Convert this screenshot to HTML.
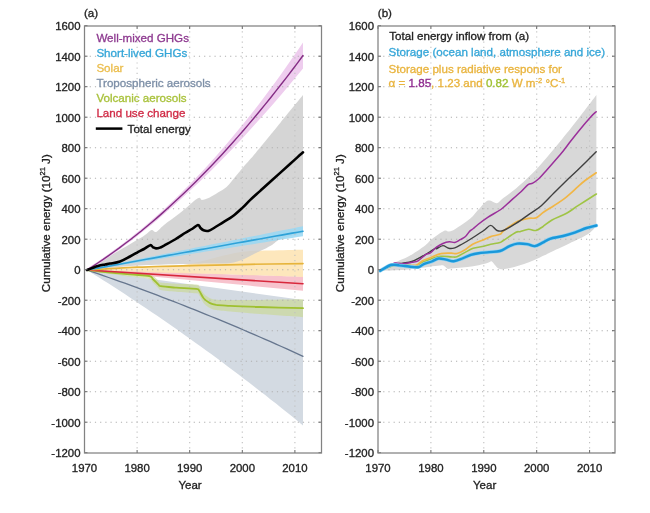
<!DOCTYPE html>
<html><head><meta charset="utf-8"><style>
html,body{margin:0;padding:0;background:#fff;}
body{width:650px;height:513px;overflow:hidden;}
svg{display:block;filter:blur(0.4px);}
text{font-family:"Liberation Sans",Arial,sans-serif;fill:#222;stroke:#222;stroke-width:0.32px;}
.g{stroke:#b0b0b0;stroke-width:1.1;stroke-dasharray:1.2 4.0;}
.t{stroke:#666;stroke-width:1;}
.fr{fill:none;stroke:#828282;stroke-width:1.25;}
.yl{font-size:11.4px;text-anchor:end;}
.xl{font-size:11.4px;text-anchor:middle;}
.lg{font-size:11.6px;}
.ln{fill:none;stroke-linejoin:round;stroke-linecap:round;}
</style></head><body>
<svg width="650" height="513" viewBox="0 0 650 513">
<rect width="650" height="513" fill="#fff"/>
<path d="M87.0,270.0 L303.0,300.0 L303.0,425.4 L297.6,421.0 L292.2,416.6 L286.8,412.2 L281.4,407.9 L276.0,403.6 L270.6,399.4 L265.2,395.1 L259.8,390.9 L254.4,386.7 L249.0,382.5 L243.6,378.4 L238.2,374.3 L232.8,370.2 L227.4,366.2 L222.0,362.1 L216.6,358.1 L211.2,354.1 L205.8,350.2 L200.4,346.3 L195.0,342.4 L189.6,338.5 L184.2,334.7 L178.8,330.8 L173.4,327.1 L168.0,323.3 L162.6,319.5 L157.2,315.8 L151.8,312.2 L146.4,308.5 L141.0,304.9 L135.6,301.3 L130.2,297.7 L124.8,294.1 L119.4,290.6 L114.0,287.1 L108.6,283.6 L103.2,280.2 L97.8,276.8 L92.4,273.4 L87.0,270.0 Z" fill="#d3dae2"/>
<path d="M87.0,269.5 C89.2,269.7 92.8,270.0 100.0,270.5 C107.2,270.9 121.8,271.8 130.0,272.2 C138.2,272.6 145.3,272.5 149.2,273.0 C153.0,273.6 151.5,274.3 153.1,275.6 C154.7,277.0 157.2,279.8 158.5,280.9 C159.8,282.1 157.9,282.0 160.8,282.5 C163.8,282.9 170.3,283.3 176.2,283.7 C182.1,284.0 192.4,284.0 196.2,284.5 C200.0,284.9 197.9,284.8 199.2,286.3 C200.5,287.9 202.0,291.9 203.8,293.8 C205.6,295.8 207.9,297.2 210.0,298.2 C212.1,299.1 212.9,299.4 216.2,299.7 C219.5,300.0 222.7,300.0 230.0,300.0 C237.3,300.0 247.8,300.0 260.0,299.9 C272.2,299.7 295.8,299.3 303.0,299.2 L303.0,317.2 C295.8,316.7 272.2,315.1 260.0,314.1 C247.8,313.2 237.3,312.3 230.0,311.6 C222.7,310.9 219.5,310.7 216.2,310.1 C212.9,309.5 212.1,309.2 210.0,308.0 C207.9,306.9 205.6,305.3 203.8,303.2 C202.0,301.0 200.5,296.9 199.2,295.3 C197.9,293.6 200.0,293.9 196.2,293.3 C192.4,292.7 182.1,292.3 176.2,291.7 C170.3,291.2 163.8,290.5 160.8,289.9 C157.9,289.3 159.8,289.5 158.5,288.3 C157.2,287.1 154.7,284.3 153.1,282.8 C151.5,281.2 153.0,280.0 149.2,279.0 C145.3,277.9 138.2,277.7 130.0,276.6 C121.8,275.5 107.2,273.5 100.0,272.5 C92.8,271.5 89.2,270.8 87.0,270.5 Z" fill="#c9d98f" fill-opacity="0.6"/>
<path d="M87.0,269.5 L92.4,269.7 L97.8,269.9 L103.2,270.0 L108.6,270.2 L114.0,270.4 L119.4,270.6 L124.8,270.8 L130.2,270.9 L135.6,271.1 L141.0,271.3 L146.4,271.5 L151.8,271.7 L157.2,271.8 L162.6,272.0 L168.0,272.2 L173.4,272.4 L178.8,272.6 L184.2,272.7 L189.6,272.9 L195.0,273.1 L200.4,273.3 L205.8,273.5 L211.2,273.6 L216.6,273.8 L222.0,274.0 L227.4,274.2 L232.8,274.4 L238.2,274.5 L243.6,274.7 L249.0,274.9 L254.4,275.1 L259.8,275.3 L265.2,275.4 L270.6,275.6 L276.0,275.8 L281.4,276.0 L286.8,276.2 L292.2,276.3 L297.6,276.5 L303.0,276.7 L303.0,290.7 L297.6,290.2 L292.2,289.7 L286.8,289.2 L281.4,288.7 L276.0,288.2 L270.6,287.7 L265.2,287.2 L259.8,286.7 L254.4,286.2 L249.0,285.6 L243.6,285.1 L238.2,284.6 L232.8,284.1 L227.4,283.6 L222.0,283.1 L216.6,282.6 L211.2,282.1 L205.8,281.6 L200.4,281.1 L195.0,280.6 L189.6,280.1 L184.2,279.6 L178.8,279.1 L173.4,278.6 L168.0,278.1 L162.6,277.6 L157.2,277.1 L151.8,276.6 L146.4,276.1 L141.0,275.6 L135.6,275.0 L130.2,274.5 L124.8,274.0 L119.4,273.5 L114.0,273.0 L108.6,272.5 L103.2,272.0 L97.8,271.5 L92.4,271.0 L87.0,270.5 Z" fill="#f4a9b8" fill-opacity="0.7"/>
<path d="M87.0,270.0 C94.2,269.8 116.3,269.0 130.0,268.5 C143.7,268.0 158.2,267.9 169.0,267.0 C179.8,266.1 186.8,264.4 194.8,262.8 C202.8,261.2 208.9,259.1 216.9,257.2 C224.9,255.3 234.0,252.8 242.8,251.7 C251.7,250.6 260.0,250.8 270.0,250.5 C280.0,250.2 297.5,249.8 303.0,249.7 L303.0,277.0 C294.2,276.7 266.5,275.7 250.0,275.2 C233.5,274.7 220.7,274.3 204.0,273.8 C187.3,273.3 169.5,272.8 150.0,272.2 C130.5,271.6 97.5,270.4 87.0,270.0 Z" fill="#fde3b0" fill-opacity="0.85"/>
<path d="M87.0,270.0 C89.2,268.7 94.5,265.3 100.0,262.0 C105.5,258.7 112.7,254.4 120.0,250.0 C127.3,245.6 138.8,239.0 144.0,235.7 C149.2,232.4 149.5,230.6 151.5,230.0 C153.5,229.4 153.9,232.8 156.0,232.0 C158.1,231.2 160.0,228.1 164.0,224.9 C168.0,221.7 174.4,217.4 180.0,213.0 C185.6,208.6 193.8,200.6 197.5,198.4 C201.2,196.2 200.0,200.0 201.9,199.9 C203.8,199.8 206.5,198.9 209.2,197.7 C211.9,196.5 215.1,194.4 218.0,192.6 C220.9,190.8 223.9,189.5 226.8,186.8 C229.7,184.1 232.8,179.7 235.5,176.5 C238.2,173.3 239.9,171.2 242.8,167.8 C245.7,164.4 250.6,159.1 253.1,156.1 C255.6,153.1 255.2,153.4 258.0,150.0 C260.8,146.6 266.2,140.0 270.0,135.4 C273.8,130.8 275.3,128.9 280.8,122.2 C286.3,115.5 299.3,99.5 303.0,95.0 L303.0,233.0 C299.4,233.9 286.5,236.6 281.2,238.7 C275.9,240.8 275.1,243.2 271.1,245.5 C267.2,247.8 263.7,249.4 257.5,252.2 C251.3,255.0 242.7,260.5 233.8,262.4 C224.9,264.3 215.6,263.1 204.0,263.5 C192.4,263.9 176.3,264.1 164.0,264.5 C151.7,264.9 142.8,265.1 130.0,266.0 C117.2,266.9 94.2,269.3 87.0,270.0 Z" fill="#cccccc" fill-opacity="0.82"/>
<path d="M87.0,269.5 L92.4,268.4 L97.8,267.3 L103.2,266.3 L108.6,265.2 L114.0,264.1 L119.4,263.0 L124.8,261.9 L130.2,260.8 L135.6,259.8 L141.0,258.7 L146.4,257.6 L151.8,256.5 L157.2,255.4 L162.6,254.3 L168.0,253.3 L173.4,252.2 L178.8,251.1 L184.2,250.0 L189.6,248.9 L195.0,247.8 L200.4,246.8 L205.8,245.7 L211.2,244.6 L216.6,243.5 L222.0,242.4 L227.4,241.4 L232.8,240.3 L238.2,239.2 L243.6,238.1 L249.0,237.0 L254.4,235.9 L259.8,234.9 L265.2,233.8 L270.6,232.7 L276.0,231.6 L281.4,230.5 L286.8,229.4 L292.2,228.4 L297.6,227.3 L303.0,226.2 L303.0,236.2 L297.6,237.1 L292.2,237.9 L286.8,238.8 L281.4,239.6 L276.0,240.5 L270.6,241.3 L265.2,242.2 L259.8,243.1 L254.4,243.9 L249.0,244.8 L243.6,245.6 L238.2,246.5 L232.8,247.3 L227.4,248.2 L222.0,249.1 L216.6,249.9 L211.2,250.8 L205.8,251.6 L200.4,252.5 L195.0,253.3 L189.6,254.2 L184.2,255.1 L178.8,255.9 L173.4,256.8 L168.0,257.6 L162.6,258.5 L157.2,259.4 L151.8,260.2 L146.4,261.1 L141.0,261.9 L135.6,262.8 L130.2,263.6 L124.8,264.5 L119.4,265.4 L114.0,266.2 L108.6,267.1 L103.2,267.9 L97.8,268.8 L92.4,269.6 L87.0,270.5 Z" fill="#98d8f4" fill-opacity="0.85"/>
<path d="M87.0,268.4 L92.4,265.0 L97.8,261.4 L103.2,257.8 L108.6,254.0 L114.0,250.1 L119.4,246.2 L124.8,242.1 L130.2,237.9 L135.6,233.6 L141.0,229.2 L146.4,224.7 L151.8,220.0 L157.2,215.3 L162.6,210.4 L168.0,205.5 L173.4,200.4 L178.8,195.2 L184.2,189.8 L189.6,184.4 L195.0,178.8 L200.4,173.2 L205.8,167.4 L211.2,161.5 L216.6,155.4 L222.0,149.3 L227.4,143.0 L232.8,136.6 L238.2,130.1 L243.6,123.5 L249.0,116.8 L254.4,109.9 L259.8,102.9 L265.2,95.8 L270.6,88.5 L276.0,81.2 L281.4,73.7 L286.8,66.1 L292.2,58.3 L297.6,50.5 L303.0,42.5 L303.0,68.5 L297.6,75.1 L292.2,81.6 L286.8,88.0 L281.4,94.4 L276.0,100.7 L270.6,106.9 L265.2,113.1 L259.8,119.1 L254.4,125.1 L249.0,131.1 L243.6,136.9 L238.2,142.7 L232.8,148.4 L227.4,154.0 L222.0,159.5 L216.6,165.0 L211.2,170.4 L205.8,175.7 L200.4,180.9 L195.0,186.1 L189.6,191.1 L184.2,196.1 L178.8,201.0 L173.4,205.9 L168.0,210.6 L162.6,215.3 L157.2,219.9 L151.8,224.4 L146.4,228.8 L141.0,233.1 L135.6,237.4 L130.2,241.5 L124.8,245.6 L119.4,249.6 L114.0,253.5 L108.6,257.3 L103.2,261.0 L97.8,264.6 L92.4,268.2 L87.0,271.6 Z" fill="#eecdee"/>
<line x1="84.5" y1="422.2" x2="321.5" y2="422.2" class="g"/>
<line x1="84.5" y1="391.7" x2="321.5" y2="391.7" class="g"/>
<line x1="84.5" y1="361.2" x2="321.5" y2="361.2" class="g"/>
<line x1="84.5" y1="330.7" x2="321.5" y2="330.7" class="g"/>
<line x1="84.5" y1="300.2" x2="321.5" y2="300.2" class="g"/>
<line x1="84.5" y1="269.7" x2="321.5" y2="269.7" class="g"/>
<line x1="84.5" y1="239.2" x2="321.5" y2="239.2" class="g"/>
<line x1="84.5" y1="208.7" x2="321.5" y2="208.7" class="g"/>
<line x1="84.5" y1="178.2" x2="321.5" y2="178.2" class="g"/>
<line x1="84.5" y1="147.7" x2="321.5" y2="147.7" class="g"/>
<line x1="84.5" y1="117.2" x2="321.5" y2="117.2" class="g"/>
<line x1="84.5" y1="86.7" x2="321.5" y2="86.7" class="g"/>
<line x1="84.5" y1="56.2" x2="321.5" y2="56.2" class="g"/>
<line x1="137.1" y1="26" x2="137.1" y2="453" class="g" style="stroke:#c0c0c0"/>
<line x1="189.7" y1="26" x2="189.7" y2="453" class="g" style="stroke:#c0c0c0"/>
<line x1="242.3" y1="26" x2="242.3" y2="453" class="g" style="stroke:#c0c0c0"/>
<line x1="294.9" y1="26" x2="294.9" y2="453" class="g" style="stroke:#c0c0c0"/>
<polyline points="87.0,270.0 92.4,271.8 97.8,273.7 103.2,275.6 108.6,277.5 114.0,279.4 119.4,281.3 124.8,283.2 130.2,285.2 135.6,287.2 141.0,289.2 146.4,291.2 151.8,293.2 157.2,295.2 162.6,297.3 168.0,299.3 173.4,301.4 178.8,303.5 184.2,305.6 189.6,307.8 195.0,309.9 200.4,312.1 205.8,314.3 211.2,316.5 216.6,318.7 222.0,320.9 227.4,323.2 232.8,325.4 238.2,327.7 243.6,330.0 249.0,332.3 254.4,334.6 259.8,337.0 265.2,339.3 270.6,341.7 276.0,344.1 281.4,346.5 286.8,348.9 292.2,351.4 297.6,353.8 303.0,356.3" class="ln" stroke="#66768e" stroke-width="1.3"/>
<path d="M87.0,270.0 C89.2,270.2 92.8,270.8 100.0,271.5 C107.2,272.2 121.8,273.6 130.0,274.4 C138.2,275.1 145.3,275.2 149.2,276.0 C153.0,276.8 151.5,277.8 153.1,279.2 C154.7,280.6 157.2,283.4 158.5,284.6 C159.8,285.8 157.9,285.7 160.8,286.2 C163.8,286.7 170.3,287.2 176.2,287.7 C182.1,288.1 192.4,288.4 196.2,288.9 C200.0,289.4 197.9,289.2 199.2,290.8 C200.5,292.4 202.0,296.4 203.8,298.5 C205.6,300.6 207.9,302.0 210.0,303.1 C212.1,304.2 212.9,304.4 216.2,304.9 C219.5,305.3 222.7,305.4 230.0,305.8 C237.3,306.2 247.8,306.6 260.0,307.0 C272.2,307.4 295.8,308.0 303.0,308.2" class="ln" stroke="#9fc030" stroke-width="1.8"/>
<polyline points="87.0,270.0 303.0,283.7" class="ln" stroke="#d8283c" stroke-width="1.6"/>
<path d="M87.0,270.0 C90.8,269.8 101.7,269.1 110.0,268.6 C118.3,268.1 128.0,267.6 137.0,267.2 C146.0,266.8 152.8,266.6 164.0,266.3 C175.2,266.0 189.7,265.6 204.0,265.3 C218.3,265.0 233.5,264.6 250.0,264.3 C266.5,264.0 294.2,263.7 303.0,263.6" class="ln" stroke="#e6b43c" stroke-width="1.7"/>
<polyline points="87.0,270.0 92.4,269.0 97.8,268.1 103.2,267.1 108.6,266.1 114.0,265.1 119.4,264.2 124.8,263.2 130.2,262.2 135.6,261.3 141.0,260.3 146.4,259.3 151.8,258.4 157.2,257.4 162.6,256.4 168.0,255.4 173.4,254.5 178.8,253.5 184.2,252.5 189.6,251.6 195.0,250.6 200.4,249.6 205.8,248.7 211.2,247.7 216.6,246.7 222.0,245.8 227.4,244.8 232.8,243.8 238.2,242.8 243.6,241.9 249.0,240.9 254.4,239.9 259.8,239.0 265.2,238.0 270.6,237.0 276.0,236.0 281.4,235.1 286.8,234.1 292.2,233.1 297.6,232.2 303.0,231.2" class="ln" stroke="#2ea2d8" stroke-width="1.6"/>
<polyline points="87.0,270.0 92.4,266.6 97.8,263.0 103.2,259.4 108.6,255.6 114.0,251.8 119.4,247.9 124.8,243.8 130.2,239.7 135.6,235.5 141.0,231.2 146.4,226.7 151.8,222.2 157.2,217.6 162.6,212.9 168.0,208.0 173.4,203.1 178.8,198.1 184.2,193.0 189.6,187.8 195.0,182.5 200.4,177.1 205.8,171.5 211.2,165.9 216.6,160.2 222.0,154.4 227.4,148.5 232.8,142.5 238.2,136.4 243.6,130.2 249.0,123.9 254.4,117.5 259.8,111.0 265.2,104.4 270.6,97.7 276.0,90.9 281.4,84.0 286.8,77.1 292.2,70.0 297.6,62.8 303.0,55.5" class="ln" stroke="#842c84" stroke-width="1.4"/>
<path d="M87.0,270.0 C88.8,269.3 95.0,266.9 98.0,266.0 C101.0,265.1 103.0,264.9 105.0,264.5 C107.0,264.1 107.5,264.1 110.0,263.6 C112.5,263.1 116.7,262.7 120.0,261.5 C123.3,260.3 127.1,258.0 130.0,256.5 C132.9,255.0 135.2,253.6 137.5,252.3 C139.8,251.1 141.9,250.2 144.0,249.0 C146.1,247.8 148.8,245.5 150.3,245.2 C151.8,244.9 152.1,246.8 153.0,247.3 C153.9,247.8 154.8,248.4 156.0,248.4 C157.2,248.4 158.7,248.1 160.0,247.6 C161.3,247.1 161.5,246.9 164.0,245.6 C166.5,244.2 171.5,241.6 175.0,239.5 C178.5,237.4 182.2,234.8 185.0,233.0 C187.8,231.2 189.8,230.3 192.0,229.0 C194.2,227.7 196.5,225.2 197.9,225.0 C199.3,224.8 199.6,227.1 200.5,228.0 C201.4,228.9 202.2,229.8 203.5,230.3 C204.8,230.8 206.4,231.3 208.2,230.9 C209.9,230.5 211.5,229.5 214.0,228.0 C216.5,226.5 220.3,224.0 223.4,222.1 C226.5,220.2 229.6,218.6 232.7,216.3 C235.8,214.0 239.2,210.8 242.1,208.1 C245.0,205.4 247.3,202.7 250.3,199.9 C253.3,197.1 256.7,194.1 260.0,191.1 C263.3,188.1 265.0,186.5 270.0,182.0 C275.0,177.5 284.5,168.9 290.0,164.0 C295.5,159.1 300.8,154.2 303.0,152.3" class="ln" stroke="#000" stroke-width="2.6"/>
<line x1="84.5" y1="452.7" x2="87.5" y2="452.7" class="t"/>
<line x1="321.5" y1="452.7" x2="318.5" y2="452.7" class="t"/>
<text x="80.5" y="457.3" class="yl">-1200</text>
<line x1="84.5" y1="422.2" x2="87.5" y2="422.2" class="t"/>
<line x1="321.5" y1="422.2" x2="318.5" y2="422.2" class="t"/>
<text x="80.5" y="426.8" class="yl">-1000</text>
<line x1="84.5" y1="391.7" x2="87.5" y2="391.7" class="t"/>
<line x1="321.5" y1="391.7" x2="318.5" y2="391.7" class="t"/>
<text x="80.5" y="396.3" class="yl">-800</text>
<line x1="84.5" y1="361.2" x2="87.5" y2="361.2" class="t"/>
<line x1="321.5" y1="361.2" x2="318.5" y2="361.2" class="t"/>
<text x="80.5" y="365.8" class="yl">-600</text>
<line x1="84.5" y1="330.7" x2="87.5" y2="330.7" class="t"/>
<line x1="321.5" y1="330.7" x2="318.5" y2="330.7" class="t"/>
<text x="80.5" y="335.3" class="yl">-400</text>
<line x1="84.5" y1="300.2" x2="87.5" y2="300.2" class="t"/>
<line x1="321.5" y1="300.2" x2="318.5" y2="300.2" class="t"/>
<text x="80.5" y="304.8" class="yl">-200</text>
<line x1="84.5" y1="269.7" x2="87.5" y2="269.7" class="t"/>
<line x1="321.5" y1="269.7" x2="318.5" y2="269.7" class="t"/>
<text x="80.5" y="274.3" class="yl">0</text>
<line x1="84.5" y1="239.2" x2="87.5" y2="239.2" class="t"/>
<line x1="321.5" y1="239.2" x2="318.5" y2="239.2" class="t"/>
<text x="80.5" y="243.8" class="yl">200</text>
<line x1="84.5" y1="208.7" x2="87.5" y2="208.7" class="t"/>
<line x1="321.5" y1="208.7" x2="318.5" y2="208.7" class="t"/>
<text x="80.5" y="213.3" class="yl">400</text>
<line x1="84.5" y1="178.2" x2="87.5" y2="178.2" class="t"/>
<line x1="321.5" y1="178.2" x2="318.5" y2="178.2" class="t"/>
<text x="80.5" y="182.8" class="yl">600</text>
<line x1="84.5" y1="147.7" x2="87.5" y2="147.7" class="t"/>
<line x1="321.5" y1="147.7" x2="318.5" y2="147.7" class="t"/>
<text x="80.5" y="152.3" class="yl">800</text>
<line x1="84.5" y1="117.2" x2="87.5" y2="117.2" class="t"/>
<line x1="321.5" y1="117.2" x2="318.5" y2="117.2" class="t"/>
<text x="80.5" y="121.8" class="yl">1000</text>
<line x1="84.5" y1="86.7" x2="87.5" y2="86.7" class="t"/>
<line x1="321.5" y1="86.7" x2="318.5" y2="86.7" class="t"/>
<text x="80.5" y="91.3" class="yl">1200</text>
<line x1="84.5" y1="56.2" x2="87.5" y2="56.2" class="t"/>
<line x1="321.5" y1="56.2" x2="318.5" y2="56.2" class="t"/>
<text x="80.5" y="60.8" class="yl">1400</text>
<line x1="84.5" y1="25.7" x2="87.5" y2="25.7" class="t"/>
<line x1="321.5" y1="25.7" x2="318.5" y2="25.7" class="t"/>
<text x="80.5" y="30.3" class="yl">1600</text>
<line x1="84.5" y1="453" x2="84.5" y2="450" class="t"/>
<line x1="84.5" y1="26" x2="84.5" y2="29" class="t"/>
<text x="84.5" y="471.8" class="xl">1970</text>
<line x1="137.1" y1="453" x2="137.1" y2="450" class="t"/>
<line x1="137.1" y1="26" x2="137.1" y2="29" class="t"/>
<text x="137.1" y="471.8" class="xl">1980</text>
<line x1="189.7" y1="453" x2="189.7" y2="450" class="t"/>
<line x1="189.7" y1="26" x2="189.7" y2="29" class="t"/>
<text x="189.7" y="471.8" class="xl">1990</text>
<line x1="242.3" y1="453" x2="242.3" y2="450" class="t"/>
<line x1="242.3" y1="26" x2="242.3" y2="29" class="t"/>
<text x="242.3" y="471.8" class="xl">2000</text>
<line x1="294.9" y1="453" x2="294.9" y2="450" class="t"/>
<line x1="294.9" y1="26" x2="294.9" y2="29" class="t"/>
<text x="294.9" y="471.8" class="xl">2010</text>
<rect x="84.5" y="26" width="237.0" height="427" class="fr"/>
<text x="96.4" y="42.1" class="lg" style="fill:#8e3a90;stroke:#8e3a90">Well-mixed GHGs</text>
<text x="96.4" y="57.0" class="lg" style="fill:#35a6d8;stroke:#35a6d8">Short-lived GHGs</text>
<text x="96.4" y="71.9" class="lg" style="fill:#ebbd4c;stroke:#ebbd4c">Solar</text>
<text x="96.4" y="86.7" class="lg" style="fill:#7d8fa7;stroke:#7d8fa7">Tropospheric aerosols</text>
<text x="96.4" y="101.6" class="lg" style="fill:#a9c23c;stroke:#a9c23c">Volcanic aerosols</text>
<text x="96.4" y="116.5" class="lg" style="fill:#d02a45;stroke:#d02a45">Land use change</text>
<line x1="95.8" y1="128.6" x2="122.4" y2="128.6" stroke="#000" stroke-width="2.5"/>
<text x="127.6" y="133" class="lg">Total energy</text>
<text x="83.9" y="17.3" style="font-size:11.6px">(a)</text>
<path d="M380.3,270.8 C382.5,269.5 388.6,265.5 393.4,263.1 C398.1,260.7 403.7,259.0 408.8,256.2 C413.9,253.4 420.4,249.0 424.2,246.2 C428.0,243.4 428.5,241.8 431.8,239.2 C435.1,236.6 441.4,232.1 444.2,230.8 C447.0,229.5 447.0,231.8 448.8,231.5 C450.6,231.2 451.3,231.4 454.9,229.2 C458.5,227.0 466.4,221.7 470.3,218.5 C474.2,215.3 475.4,212.8 478.0,210.0 C480.6,207.2 483.6,203.5 485.6,201.9 C487.6,200.3 488.1,200.3 490.0,200.5 C491.9,200.7 494.8,203.6 497.0,203.2 C499.2,202.8 500.1,200.5 503.3,198.1 C506.5,195.7 511.4,192.4 516.0,188.5 C520.6,184.6 526.1,179.8 531.2,174.6 C536.3,169.4 541.6,163.4 546.8,157.4 C552.0,151.4 557.7,144.4 562.4,138.7 C567.1,133.0 569.2,130.4 574.9,123.1 C580.6,115.8 592.8,99.7 596.4,95.0 L596.3,226.2 C594.9,227.5 592.2,231.3 587.7,234.2 C583.2,237.1 575.5,240.4 569.2,243.4 C562.9,246.4 554.1,250.4 550.0,252.4 C545.9,254.4 547.2,254.0 544.5,255.3 C541.8,256.6 537.2,258.7 533.8,260.2 C530.4,261.7 527.4,263.0 524.1,264.1 C520.9,265.2 517.5,266.2 514.3,267.0 C511.0,267.8 507.0,268.7 504.6,269.0 C502.2,269.3 501.3,269.3 500.0,269.0 C498.7,268.7 498.2,268.4 496.8,267.2 C495.4,266.0 493.1,262.5 491.9,261.6 C490.7,260.7 491.0,261.6 489.7,262.0 C488.4,262.4 486.6,263.3 483.8,264.0 C481.0,264.7 476.7,265.6 473.1,266.2 C469.5,266.8 465.9,267.2 462.3,267.6 C458.7,268.0 454.0,268.4 451.5,268.6 C449.0,268.8 448.7,269.3 447.4,268.8 C446.1,268.3 444.8,266.1 443.5,265.6 C442.2,265.1 441.9,265.4 439.7,265.6 C437.4,265.8 432.9,266.4 430.0,266.8 C427.1,267.2 425.5,267.4 422.0,267.8 C418.5,268.2 413.3,269.1 408.8,269.5 C404.3,269.9 399.8,270.1 395.0,270.3 C390.2,270.5 382.8,270.7 380.3,270.8 Z" fill="#d8d8d8"/>
<line x1="378.0" y1="422.2" x2="615" y2="422.2" class="g"/>
<line x1="378.0" y1="391.7" x2="615" y2="391.7" class="g"/>
<line x1="378.0" y1="361.2" x2="615" y2="361.2" class="g"/>
<line x1="378.0" y1="330.7" x2="615" y2="330.7" class="g"/>
<line x1="378.0" y1="300.2" x2="615" y2="300.2" class="g"/>
<line x1="378.0" y1="269.7" x2="615" y2="269.7" class="g"/>
<line x1="378.0" y1="239.2" x2="615" y2="239.2" class="g"/>
<line x1="378.0" y1="208.7" x2="615" y2="208.7" class="g"/>
<line x1="378.0" y1="178.2" x2="615" y2="178.2" class="g"/>
<line x1="378.0" y1="147.7" x2="615" y2="147.7" class="g"/>
<line x1="378.0" y1="117.2" x2="615" y2="117.2" class="g"/>
<line x1="378.0" y1="86.7" x2="615" y2="86.7" class="g"/>
<line x1="378.0" y1="56.2" x2="615" y2="56.2" class="g"/>
<line x1="430.9" y1="26" x2="430.9" y2="453" class="g" style="stroke:#c0c0c0"/>
<line x1="483.8" y1="26" x2="483.8" y2="453" class="g" style="stroke:#c0c0c0"/>
<line x1="536.7" y1="26" x2="536.7" y2="453" class="g" style="stroke:#c0c0c0"/>
<line x1="589.6" y1="26" x2="589.6" y2="453" class="g" style="stroke:#c0c0c0"/>
<path d="M380.3,270.8 C383.1,269.8 391.2,265.6 397.3,264.8 C403.4,264.0 412.4,266.2 416.6,265.8 C420.8,265.4 420.3,263.4 422.6,262.3 C424.9,261.2 427.3,260.2 430.3,259.2 C433.3,258.2 437.3,256.8 440.8,256.4 C444.3,256.0 448.8,256.8 451.5,256.9 C454.2,256.9 454.6,257.5 456.9,256.7 C459.2,255.9 462.8,253.5 465.5,252.1 C468.2,250.7 470.1,249.3 473.1,248.3 C476.2,247.3 480.9,246.9 483.8,246.2 C486.7,245.5 488.0,244.8 490.7,244.2 C493.4,243.6 497.9,243.0 500.0,242.4 C502.1,241.8 500.6,242.2 503.3,240.5 C506.0,238.8 513.2,233.8 516.0,232.3 C518.8,230.8 517.9,232.2 520.0,231.7 C522.1,231.2 525.9,229.4 528.6,229.2 C531.3,229.0 533.5,231.0 536.0,230.5 C538.5,230.0 540.7,227.9 543.4,226.2 C546.1,224.4 548.1,222.2 552.0,220.0 C555.9,217.8 562.3,215.7 566.6,213.3 C570.9,210.9 573.0,208.9 578.0,205.7 C583.0,202.5 593.3,195.9 596.4,194.0" class="ln" stroke="#9fc445" stroke-width="1.6"/>
<path d="M380.3,270.8 C382.4,269.9 389.3,266.3 393.0,265.5 C396.7,264.7 399.4,266.2 402.6,266.2 C405.8,266.2 409.7,265.7 412.0,265.5 C414.3,265.3 414.8,265.8 416.6,265.0 C418.4,264.2 420.3,262.0 422.6,260.8 C424.9,259.6 427.3,258.9 430.3,257.7 C433.3,256.5 437.3,254.4 440.8,253.7 C444.3,252.9 448.8,253.2 451.5,253.2 C454.2,253.2 454.6,254.1 456.9,253.5 C459.2,252.9 462.8,251.0 465.5,249.4 C468.2,247.8 470.1,245.6 473.1,244.0 C476.2,242.4 480.9,240.9 483.8,239.7 C486.7,238.5 488.0,237.5 490.7,236.6 C493.4,235.7 497.9,235.2 500.0,234.3 C502.1,233.4 500.6,233.0 503.3,231.0 C506.0,229.0 511.8,224.3 516.0,222.2 C520.2,220.1 525.2,219.1 528.6,218.4 C532.0,217.7 533.7,218.9 536.2,217.8 C538.7,216.7 540.8,214.0 543.8,212.0 C546.8,210.0 550.1,208.2 553.9,205.7 C557.7,203.2 562.6,200.0 566.6,196.8 C570.6,193.6 575.1,189.2 578.0,186.7 C580.9,184.1 580.9,183.8 583.9,181.5 C586.9,179.2 594.2,174.2 596.2,172.8" class="ln" stroke="#f1b646" stroke-width="1.7"/>
<path d="M380.3,270.8 C382.5,269.8 389.7,265.9 393.4,264.6 C397.1,263.3 399.5,263.6 402.6,263.1 C405.7,262.6 408.7,262.5 411.8,261.5 C414.9,260.5 418.0,258.6 421.1,256.9 C424.2,255.2 427.5,253.2 430.3,251.5 C433.1,249.8 437.0,247.3 438.0,246.9 C439.0,246.5 435.7,249.0 436.5,248.8 C437.3,248.6 440.8,245.7 442.9,245.6 C444.9,245.5 446.8,247.9 448.8,248.3 C450.8,248.7 452.6,248.5 454.8,247.8 C457.1,247.1 459.2,245.7 462.3,244.0 C465.4,242.3 469.5,239.8 473.1,237.5 C476.7,235.2 480.9,232.5 483.8,230.5 C486.7,228.5 488.5,225.4 490.7,225.4 C492.9,225.4 494.9,229.7 497.0,230.5 C499.1,231.3 500.1,231.7 503.3,230.5 C506.5,229.3 511.8,226.1 516.0,223.4 C520.2,220.8 524.4,217.6 528.6,214.6 C532.8,211.6 537.1,209.3 541.3,205.7 C545.5,202.1 549.7,197.2 553.9,193.0 C558.1,188.8 562.6,184.3 566.6,180.4 C570.6,176.5 573.1,174.5 578.0,169.7 C582.9,164.9 593.2,154.8 596.2,151.8" class="ln" stroke="#404040" stroke-width="1.4"/>
<path d="M380.3,270.8 C381.4,270.1 384.8,267.9 387.2,266.6 C389.6,265.3 392.3,263.6 394.9,263.1 C397.5,262.6 399.8,263.9 402.6,263.8 C405.4,263.7 409.2,262.8 411.8,262.3 C414.4,261.8 415.7,262.1 418.0,260.8 C420.3,259.5 423.7,255.9 425.7,254.6 C427.7,253.3 428.2,254.4 430.0,253.2 C431.8,252.0 434.4,248.8 436.5,247.2 C438.6,245.6 440.8,244.4 442.9,243.5 C445.0,242.6 447.4,242.0 449.4,241.8 C451.4,241.6 453.0,242.8 454.8,242.4 C456.6,242.1 458.4,240.7 460.2,239.7 C462.0,238.7 463.9,237.9 465.5,236.5 C467.1,235.1 468.5,232.4 469.8,231.1 C471.1,229.8 472.0,229.6 473.4,228.5 C474.8,227.4 475.6,226.4 478.0,224.5 C480.4,222.6 484.3,219.6 488.1,217.1 C491.9,214.6 497.0,212.2 500.8,209.5 C504.6,206.8 507.5,203.5 510.9,200.6 C514.3,197.7 518.1,194.5 521.0,191.8 C523.9,189.2 526.1,186.1 528.1,184.7 C530.1,183.3 530.9,184.2 532.7,183.2 C534.5,182.2 536.6,180.7 539.0,178.5 C541.4,176.3 543.7,173.4 546.8,169.9 C549.9,166.4 555.1,160.4 557.7,157.4 C560.3,154.4 560.3,154.6 562.4,152.0 C564.5,149.4 567.3,145.6 570.2,141.8 C573.1,138.0 576.5,133.6 580.0,129.4 C583.5,125.2 588.2,119.8 590.9,116.8 C593.6,113.8 595.3,112.5 596.2,111.7" class="ln" stroke="#9a2f9a" stroke-width="1.5"/>
<path d="M380.3,270.8 C382.1,269.8 387.7,265.9 390.9,265.0 C394.1,264.1 396.4,265.1 399.4,265.4 C402.4,265.6 405.9,266.2 409.0,266.5 C412.1,266.8 415.5,267.6 418.0,267.2 C420.5,266.8 421.9,264.8 424.2,263.8 C426.5,262.9 429.4,262.4 431.8,261.5 C434.2,260.6 436.2,258.8 438.6,258.5 C441.0,258.2 443.7,259.2 446.2,259.6 C448.7,260.1 451.0,261.4 453.7,261.2 C456.4,261.0 459.4,259.6 462.3,258.5 C465.2,257.4 468.2,255.7 470.9,254.8 C473.6,253.9 475.4,253.6 478.5,253.2 C481.6,252.8 485.6,252.5 489.2,252.1 C492.8,251.7 496.6,252.0 500.0,251.0 C503.4,250.0 506.6,247.3 509.5,246.1 C512.4,244.9 514.4,243.9 517.3,243.6 C520.2,243.3 524.1,243.7 527.0,244.1 C529.9,244.5 532.2,246.3 534.8,246.1 C537.4,245.9 540.1,243.9 542.6,242.7 C545.1,241.5 546.6,239.9 550.0,238.8 C553.4,237.7 558.9,237.1 563.1,236.0 C567.3,234.9 571.5,233.6 575.4,232.3 C579.3,231.0 583.0,229.1 586.5,228.0 C590.0,226.9 594.7,225.9 596.3,225.5" class="ln" stroke="#8ed0f2" stroke-width="3.6"/>
<path d="M380.3,270.8 C382.1,269.8 387.7,265.9 390.9,265.0 C394.1,264.1 396.4,265.1 399.4,265.4 C402.4,265.6 405.9,266.2 409.0,266.5 C412.1,266.8 415.5,267.6 418.0,267.2 C420.5,266.8 421.9,264.8 424.2,263.8 C426.5,262.9 429.4,262.4 431.8,261.5 C434.2,260.6 436.2,258.8 438.6,258.5 C441.0,258.2 443.7,259.2 446.2,259.6 C448.7,260.1 451.0,261.4 453.7,261.2 C456.4,261.0 459.4,259.6 462.3,258.5 C465.2,257.4 468.2,255.7 470.9,254.8 C473.6,253.9 475.4,253.6 478.5,253.2 C481.6,252.8 485.6,252.5 489.2,252.1 C492.8,251.7 496.6,252.0 500.0,251.0 C503.4,250.0 506.6,247.3 509.5,246.1 C512.4,244.9 514.4,243.9 517.3,243.6 C520.2,243.3 524.1,243.7 527.0,244.1 C529.9,244.5 532.2,246.3 534.8,246.1 C537.4,245.9 540.1,243.9 542.6,242.7 C545.1,241.5 546.6,239.9 550.0,238.8 C553.4,237.7 558.9,237.1 563.1,236.0 C567.3,234.9 571.5,233.6 575.4,232.3 C579.3,231.0 583.0,229.1 586.5,228.0 C590.0,226.9 594.7,225.9 596.3,225.5" class="ln" stroke="#1a98da" stroke-width="2.4"/>
<line x1="378.0" y1="452.7" x2="381.0" y2="452.7" class="t"/>
<line x1="615" y1="452.7" x2="612" y2="452.7" class="t"/>
<text x="374.0" y="457.3" class="yl">-1200</text>
<line x1="378.0" y1="422.2" x2="381.0" y2="422.2" class="t"/>
<line x1="615" y1="422.2" x2="612" y2="422.2" class="t"/>
<text x="374.0" y="426.8" class="yl">-1000</text>
<line x1="378.0" y1="391.7" x2="381.0" y2="391.7" class="t"/>
<line x1="615" y1="391.7" x2="612" y2="391.7" class="t"/>
<text x="374.0" y="396.3" class="yl">-800</text>
<line x1="378.0" y1="361.2" x2="381.0" y2="361.2" class="t"/>
<line x1="615" y1="361.2" x2="612" y2="361.2" class="t"/>
<text x="374.0" y="365.8" class="yl">-600</text>
<line x1="378.0" y1="330.7" x2="381.0" y2="330.7" class="t"/>
<line x1="615" y1="330.7" x2="612" y2="330.7" class="t"/>
<text x="374.0" y="335.3" class="yl">-400</text>
<line x1="378.0" y1="300.2" x2="381.0" y2="300.2" class="t"/>
<line x1="615" y1="300.2" x2="612" y2="300.2" class="t"/>
<text x="374.0" y="304.8" class="yl">-200</text>
<line x1="378.0" y1="269.7" x2="381.0" y2="269.7" class="t"/>
<line x1="615" y1="269.7" x2="612" y2="269.7" class="t"/>
<text x="374.0" y="274.3" class="yl">0</text>
<line x1="378.0" y1="239.2" x2="381.0" y2="239.2" class="t"/>
<line x1="615" y1="239.2" x2="612" y2="239.2" class="t"/>
<text x="374.0" y="243.8" class="yl">200</text>
<line x1="378.0" y1="208.7" x2="381.0" y2="208.7" class="t"/>
<line x1="615" y1="208.7" x2="612" y2="208.7" class="t"/>
<text x="374.0" y="213.3" class="yl">400</text>
<line x1="378.0" y1="178.2" x2="381.0" y2="178.2" class="t"/>
<line x1="615" y1="178.2" x2="612" y2="178.2" class="t"/>
<text x="374.0" y="182.8" class="yl">600</text>
<line x1="378.0" y1="147.7" x2="381.0" y2="147.7" class="t"/>
<line x1="615" y1="147.7" x2="612" y2="147.7" class="t"/>
<text x="374.0" y="152.3" class="yl">800</text>
<line x1="378.0" y1="117.2" x2="381.0" y2="117.2" class="t"/>
<line x1="615" y1="117.2" x2="612" y2="117.2" class="t"/>
<text x="374.0" y="121.8" class="yl">1000</text>
<line x1="378.0" y1="86.7" x2="381.0" y2="86.7" class="t"/>
<line x1="615" y1="86.7" x2="612" y2="86.7" class="t"/>
<text x="374.0" y="91.3" class="yl">1200</text>
<line x1="378.0" y1="56.2" x2="381.0" y2="56.2" class="t"/>
<line x1="615" y1="56.2" x2="612" y2="56.2" class="t"/>
<text x="374.0" y="60.8" class="yl">1400</text>
<line x1="378.0" y1="25.7" x2="381.0" y2="25.7" class="t"/>
<line x1="615" y1="25.7" x2="612" y2="25.7" class="t"/>
<text x="374.0" y="30.3" class="yl">1600</text>
<line x1="378.0" y1="453" x2="378.0" y2="450" class="t"/>
<line x1="378.0" y1="26" x2="378.0" y2="29" class="t"/>
<text x="378.0" y="471.8" class="xl">1970</text>
<line x1="430.9" y1="453" x2="430.9" y2="450" class="t"/>
<line x1="430.9" y1="26" x2="430.9" y2="29" class="t"/>
<text x="430.9" y="471.8" class="xl">1980</text>
<line x1="483.8" y1="453" x2="483.8" y2="450" class="t"/>
<line x1="483.8" y1="26" x2="483.8" y2="29" class="t"/>
<text x="483.8" y="471.8" class="xl">1990</text>
<line x1="536.7" y1="453" x2="536.7" y2="450" class="t"/>
<line x1="536.7" y1="26" x2="536.7" y2="29" class="t"/>
<text x="536.7" y="471.8" class="xl">2000</text>
<line x1="589.6" y1="453" x2="589.6" y2="450" class="t"/>
<line x1="589.6" y1="26" x2="589.6" y2="29" class="t"/>
<text x="589.6" y="471.8" class="xl">2010</text>
<rect x="378.0" y="26" width="237.0" height="427" class="fr"/>
<text x="389.3" y="40" class="lg">Total energy inflow from (a)</text>
<text x="388.6" y="56.4" class="lg" style="fill:#35a6d8;stroke:#35a6d8">Storage (ocean land, atmosphere and ice)</text>
<text x="388.6" y="73" class="lg" style="fill:#e9b43e;stroke:#e9b43e">Storage plus radiative respons for</text>
<text x="388.6" y="87.3" class="lg" style="fill:#e9b43e;stroke:#e9b43e">α = <tspan style="fill:#8e2a8e;stroke:#8e2a8e">1.85</tspan>, 1.23 and <tspan style="fill:#9ec030;stroke:#9ec030">0.82</tspan> W m<tspan dy="-4" style="font-size:7.5px">-2</tspan><tspan dy="4"> °C</tspan><tspan dy="-4" style="font-size:7.5px">-1</tspan></text>
<text x="377.8" y="17.3" style="font-size:11.6px">(b)</text>
<text x="190" y="488.8" class="xl" style="font-size:11.5px">Year</text>
<text x="484.6" y="488.8" class="xl" style="font-size:11.5px">Year</text>
<text transform="translate(50.0,223.2) rotate(-90)" x="0" y="0" style="font-size:11.6px;text-anchor:middle">Cumulative energy (10<tspan dy="-5" style="font-size:7.6px">21</tspan><tspan dy="5"> J)</tspan></text>
<text transform="translate(344.0,223.2) rotate(-90)" x="0" y="0" style="font-size:11.6px;text-anchor:middle">Cumulative energy (10<tspan dy="-5" style="font-size:7.6px">21</tspan><tspan dy="5"> J)</tspan></text>
</svg></body></html>
